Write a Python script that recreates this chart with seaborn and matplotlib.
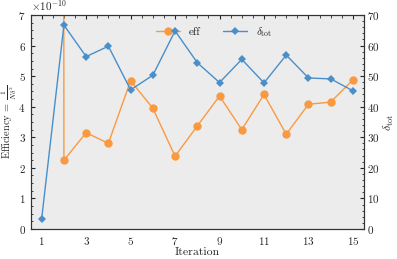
import numpy as np
import pandas as pd
import seaborn as sns
import matplotlib.pyplot as plt
from matplotlib.ticker import MultipleLocator, AutoMinorLocator

iterations = list(range(1, 16))
eff = [8.6e-8, 2.25e-10, 3.15e-10, 2.80e-10, 4.85e-10, 3.95e-10, 2.38e-10, 3.37e-10,
       4.35e-10, 3.25e-10, 4.40e-10, 3.10e-10, 4.08e-10, 4.15e-10, 4.88e-10]
delta_tot = [3.4, 66.7, 56.4, 59.8, 45.5, 50.3, 64.8, 54.4,
             47.9, 55.5, 47.8, 56.9, 49.4, 49.1, 45.2]

df = pd.DataFrame({'Iteration': iterations, 'eff': eff, 'delta_tot': delta_tot})

sns.set_style('white', {'axes.facecolor': '#ececec', 'axes.edgecolor': '#333333'})
plt.rcParams['font.family'] = ['cmr10', 'DejaVu Serif']
plt.rcParams['mathtext.fontset'] = 'cm'
plt.rcParams['axes.formatter.use_mathtext'] = True
plt.rcParams['axes.unicode_minus'] = False

orange = '#f99a42'
blue = '#4a8fc9'

fig, ax = plt.subplots(figsize=(3.97, 2.59), dpi=100)
fig.subplots_adjust(left=0.077, right=0.917, bottom=0.116, top=0.942)

sns.lineplot(data=df, x='Iteration', y='eff', ax=ax, color=orange, marker='o',
             markersize=6, markeredgewidth=0, linewidth=1, label='eff', legend=False)
ax2 = ax.twinx()
sns.lineplot(data=df, x='Iteration', y='delta_tot', ax=ax2, color=blue, marker='D',
             markersize=4.5, markeredgewidth=0, linewidth=1, label=r'$\delta_{\rm tot}$',
             legend=False)

ax.set_xlim(0.5, 15.5)
ax.set_ylim(0, 7e-10)
ax2.set_ylim(0, 70)
ax.set_xticks(range(1, 16, 2))
ax.xaxis.set_minor_locator(MultipleLocator(0.5))
ax.yaxis.set_minor_locator(AutoMinorLocator(4))
ax2.yaxis.set_minor_locator(AutoMinorLocator(5))

ax.tick_params(axis='x', which='both', direction='in', bottom=False, top=True,
               length=3, labelsize=8, pad=4)
ax.tick_params(axis='x', which='minor', length=2)
ax.tick_params(axis='y', which='both', direction='in', left=True, length=3, labelsize=8)
ax.tick_params(axis='y', which='minor', length=1.5)
ax2.tick_params(axis='y', which='both', direction='in', right=True, length=3, labelsize=8, pad=2)
ax2.tick_params(axis='y', which='minor', length=1.5)
ax.yaxis.get_offset_text().set_fontsize(8)

ax.set_xlabel('Iteration', fontsize=8.5, labelpad=1)
ax.set_ylabel(r'Efficiency = $\frac{1}{N\delta^2}$', fontsize=7.5)
ax.yaxis.set_label_coords(-0.036, 0.5)
ax2.set_ylabel(r'$\delta_{\rm tot}$', fontsize=8.5, labelpad=2)

h1, l1 = ax.get_legend_handles_labels()
h2, l2 = ax2.get_legend_handles_labels()
ax.legend(h1 + h2, l1 + l2, loc='upper center', bbox_to_anchor=(0.55, 1.0), ncol=2,
          frameon=False, fontsize=8, handlelength=2.2, columnspacing=2.0)

fig.savefig('out.png', dpi=100)
